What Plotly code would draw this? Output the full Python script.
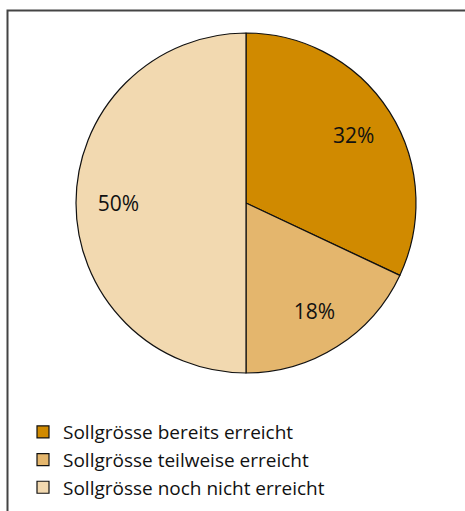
import plotly.graph_objects as go

labels = ["Sollgrösse bereits erreicht", "Sollgrösse teilweise erreicht", "Sollgrösse noch nicht erreicht"]
values = [32, 18, 50]
colors = ["#D08A00", "#E4B66D", "#F2D9B0"]

W, H = 465, 511
FONT = "Open Sans"
dom = dict(x=[76 / W, 416 / W], y=[1 - 373 / H, 1 - 33 / H])

fig = go.Figure()
# filled pie (slices + legend)
fig.add_trace(go.Pie(
    labels=labels,
    values=values,
    sort=False,
    direction="clockwise",
    rotation=0,
    marker=dict(colors=colors, line=dict(color="#111111", width=1.2)),
    textinfo="none",
    hoverinfo="label+percent",
    domain=dom,
))
# transparent ring carrying the percentage labels further out
fig.add_trace(go.Pie(
    labels=labels,
    values=values,
    sort=False,
    direction="clockwise",
    rotation=0,
    hole=0.5,
    marker=dict(colors=["rgba(0,0,0,0)"] * len(values), line=dict(width=0)),
    texttemplate="%{percent:.0%}",
    textposition="inside",
    insidetextorientation="horizontal",
    textfont=dict(family=FONT, size=21, color="#111111"),
    hoverinfo="skip",
    showlegend=False,
    domain=dom,
))

fig.update_layout(
    width=W, height=H,
    margin=dict(l=0, r=0, t=0, b=0),
    paper_bgcolor="white",
    plot_bgcolor="white",
    font=dict(family=FONT, size=19, color="#111111"),
    legend=dict(
        x=23 / W, y=1 - 413 / H, xanchor="left", yanchor="top",
        orientation="v",
        font=dict(family=FONT, size=19, color="#111111"),
        tracegroupgap=0,
        bgcolor="rgba(0,0,0,0)",
    ),
    shapes=[dict(
        type="rect", xref="paper", yref="paper",
        x0=7.5 / W, y0=-0.05, x1=1.05, y1=1 - 10.5 / H,
        line=dict(color="#444444", width=2),
        fillcolor="rgba(0,0,0,0)",
    )],
)

fig.write_html("out.html")
